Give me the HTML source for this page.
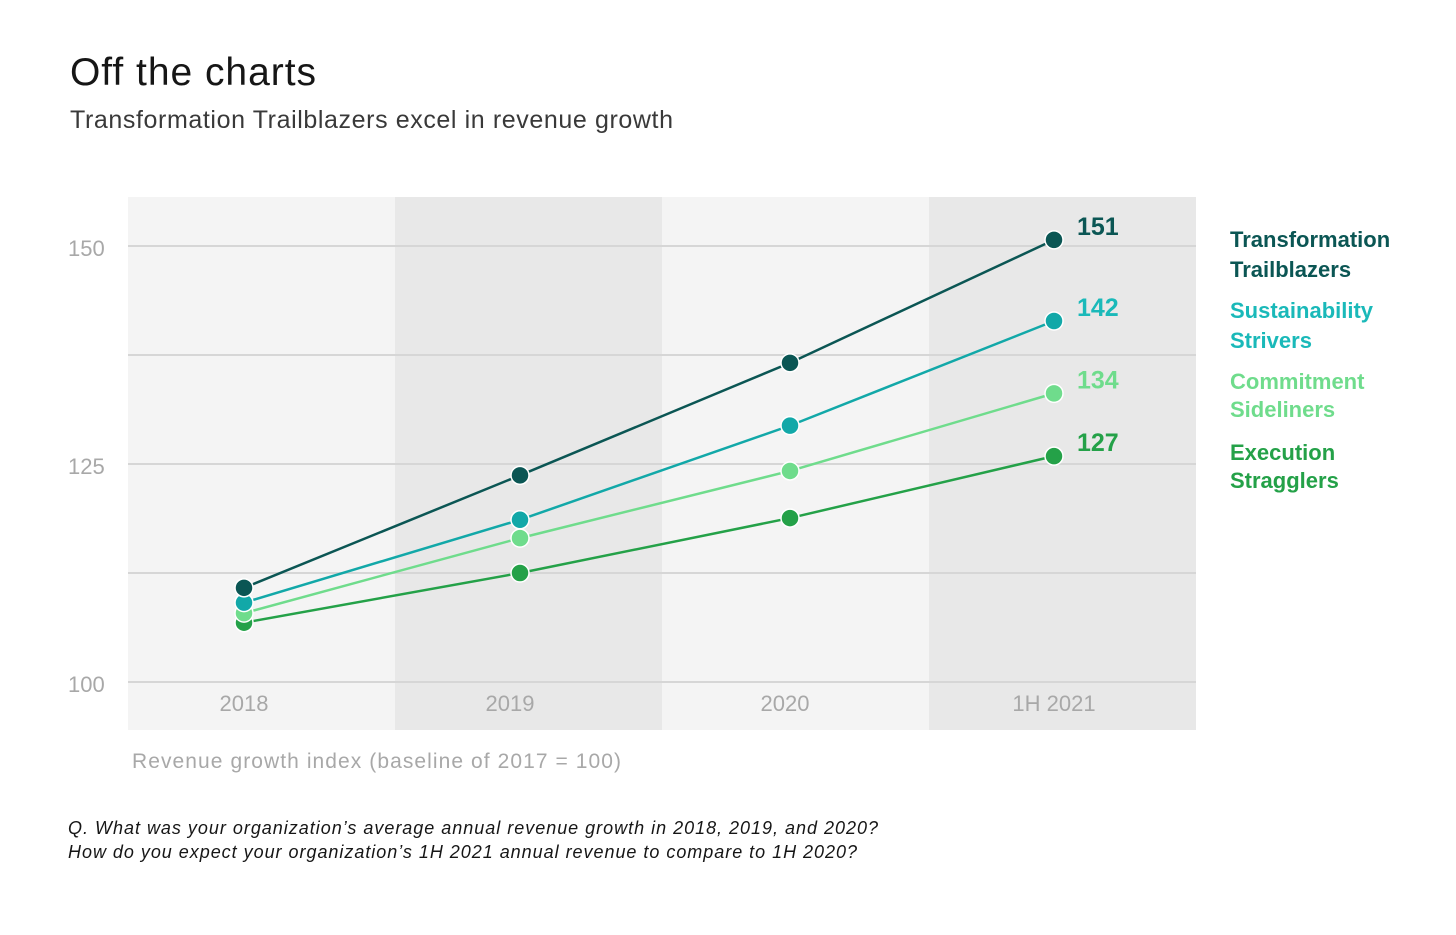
<!DOCTYPE html>
<html><head><meta charset="utf-8"><style>
body{margin:0;background:#fff;width:1456px;height:935px;overflow:hidden;font-family:"Liberation Sans",sans-serif}
svg{position:absolute;left:0;top:0}
</style></head><body>
<svg id="chart" width="1456" height="935">
<text x="70" y="85" font-size="39" fill="#161616" textLength="246">Off the charts</text>
<text x="70" y="128" font-size="25" fill="#393939" textLength="603">Transformation Trailblazers excel in revenue growth</text>
<g id="bg"></g><g id="grid"></g><g id="lines"></g>
<text x="132" y="768" font-size="21" fill="#a8a8a8" textLength="489">Revenue growth index (baseline of 2017 = 100)</text>
<text x="68" y="834" font-size="18" font-style="italic" fill="#161616" textLength="810">Q. What was your organization’s average annual revenue growth in 2018, 2019, and 2020?</text>
<text x="68" y="858" font-size="18" font-style="italic" fill="#161616" textLength="789">How do you expect your organization’s 1H 2021 annual revenue to compare to 1H 2020?</text>
</svg>
<script>
const categories=["2018","2019","2020","1H 2021"];
const seriesNames=["Transformation Trailblazers","Sustainability Strivers","Commitment Sideliners","Execution Stragglers"];
const tt=[110.8,123.7,136.6,150.7];
const ss=[109.1,118.6,129.4,141.4];
const cs=[107.9,116.5,124.2,133.1];
const es=[106.8,112.5,118.8,125.9];
const endLabels=["151","142","134","127"];
const yTicks=[100,125,150];
const gridVals=[100,112.5,125,137.5,150];
const NS="http://www.w3.org/2000/svg";
const y=v=>682-(v-100)*(436/50);
const x=i=>244+i*270+((i===1||i===2)?6:0);
function mk(tag,attrs,parent,txt){const e=document.createElementNS(NS,tag);for(const k in attrs)e.setAttribute(k,attrs[k]);if(txt!==undefined)e.textContent=txt;parent.appendChild(e);return e;}
const bg=document.getElementById('bg'),grid=document.getElementById('grid'),lines=document.getElementById('lines');
categories.forEach((c,i)=>{
 const r=mk('rect',{x:128+i*267,y:197,width:267,height:533,fill:i%2?'#e8e8e8':'#f4f4f4'},bg);
 
 
 const t=mk('text',{x:x(i)-(i===1?10:(i===2?5:0)),y:711,'font-size':22,fill:'#a8a8a8','text-anchor':'middle'},bg,c);
 
 
});
gridVals.forEach(v=>{
 const l=mk('line',{x1:128,x2:1196,y1:y(v),y2:y(v),stroke:'#d6d6d6','stroke-width':2},grid);
 
 
});
yTicks.forEach(v=>{
 const t=mk('text',{x:68,y:y(v)+10,'font-size':22,fill:'#a8a8a8'},grid,String(v));
 
 
});
const data=[tt,ss,cs,es];
const colors=['#0b5654','#12a8a8','#6fdc8c','#24a148'];
const labelColors=['#0b5654','#1ab9b9','#6fdc8c','#24a148'];
const legendY=[[247,277],[318,348],[389,417],[460,488]];
[3,2,1,0].forEach(s=>{
 const vals=data[s];
 const p=mk('polyline',{points:vals.map((v,i)=>x(i)+','+y(v)).join(' '),fill:'none',stroke:colors[s],'stroke-width':2.5},lines);
 
 
 vals.forEach((v,i)=>{
  const c=mk('circle',{cx:x(i),cy:y(v),r:9,fill:colors[s],stroke:'#fff','stroke-width':1.5},lines);
  
  
 });
 const t=mk('text',{x:1077,y:y(vals[3])-5,'font-size':25,'font-weight':'bold',fill:labelColors[s]},lines,endLabels[s]);
 
 
 const words=seriesNames[s].split(' ');
 words.forEach((w,k)=>{
  const lt=mk('text',{x:1230,y:legendY[s][k],'font-size':22,'font-weight':'bold',fill:labelColors[s]},lines,w);
  
  
 });
});
</script>
</body></html>
